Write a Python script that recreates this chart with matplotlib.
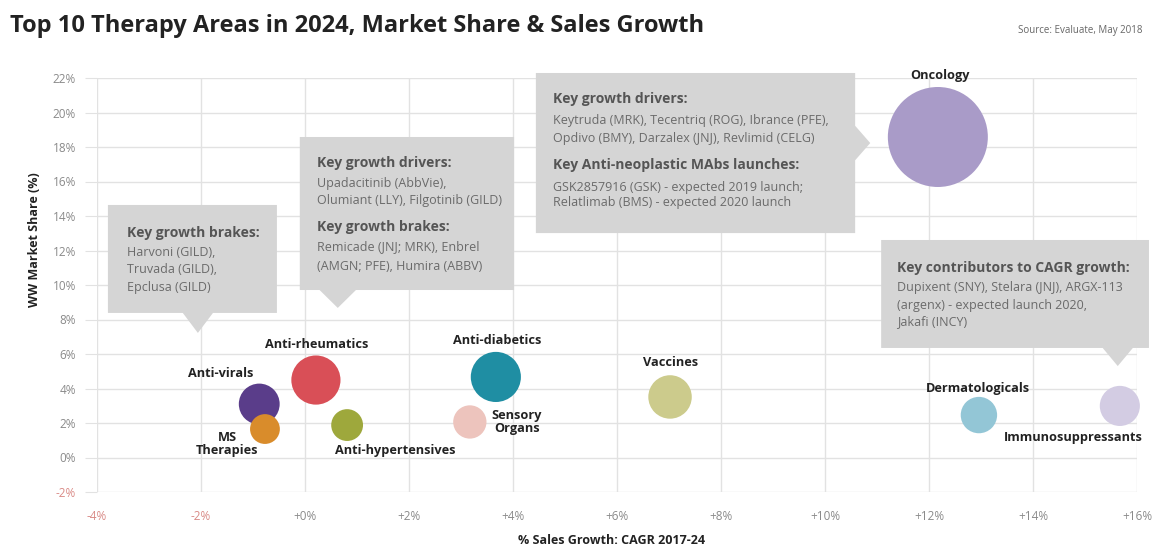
import matplotlib
matplotlib.use("Agg")
import matplotlib.pyplot as plt
from matplotlib.patches import Polygon

plt.rcParams['font.family'] = ['Open Sans', 'DejaVu Sans']

# ---- data ----
areas = ["Oncology", "Anti-virals", "MS\nTherapies", "Anti-rheumatics", "Anti-hypertensives",
         "Anti-diabetics", "Sensory\nOrgans", "Vaccines", "Dermatologicals", "Immunosuppressants"]
cagr = [12.17, -0.88, -0.77, 0.21, 0.81, 3.67, 3.17, 7.02, 12.96, 15.67]          # % CAGR 2017-24
share = [18.58, 3.10, 1.65, 4.49, 1.88, 4.67, 2.06, 3.51, 2.46, 2.99]             # WW market share %
colors = ["#a99bc8", "#5a3d8a", "#d98c2b", "#d94f57", "#9ea83c",
          "#1f8ea3", "#edc4bd", "#cccb8c", "#93c6d6", "#d3cce3"]
# label offsets (pixels) relative to bubble centre
label_off = [(2, 61), (-39, 31), (-38, -15), (1, 36), (48, -25),
             (1, 36), (47, 0), (1, 34), (-1, 27), (-47, -32)]

x_ticks = [-4, -2, 0, 2, 4, 6, 8, 10, 12, 14, 16]
y_ticks = [-2, 0, 2, 4, 6, 8, 10, 12, 14, 16, 18, 20, 22]

# callouts: (box left, box right, box bottom, box top), pointer, heading/body blocks
callouts = [
    dict(box=(-3.79, -0.54, 8.38, 14.64), ptr=("bottom", -2.06, 7.22, 0.29),
         tx=-3.42, lines=[("Key growth brakes:", 13.01, True), ("Harvoni (GILD),", 11.86, False),
                          ("Truvada (GILD),", 10.87, False), ("Epclusa (GILD)", 9.83, False)]),
    dict(box=(-0.10, 4.02, 9.71, 18.58), ptr=("bottom", 0.63, 8.67, 0.35),
         tx=0.23, lines=[("Key growth drivers:", 17.07, True), ("Upadacitinib (AbbVie),", 15.91, False),
                         ("Olumiant (LLY), Filgotinib (GILD)", 14.87, False),
                         ("Key growth brakes:", 13.36, True), ("Remicade (JNJ; MRK), Enbrel", 12.20, False),
                         ("(AMGN; PFE), Humira (ABBV)", 11.10, False)]),
    dict(box=(4.44, 10.58, 13.01, 22.29), ptr=("right", 10.87, 18.23, 1.0),
         tx=4.77, lines=[("Key growth drivers:", 20.78, True),
                         ("Keytruda (MRK), Tecentriq (ROG), Ibrance (PFE),", 19.51, False),
                         ("Opdivo (BMY), Darzalex (JNJ), Revlimid (CELG)", 18.52, False),
                         ("Key Anti-neoplastic MAbs launches:", 16.96, True),
                         ("GSK2857916 (GSK) - expected 2019 launch;", 15.68, False),
                         ("Relatlimab (BMS) - expected 2020 launch", 14.81, False)]),
    dict(box=(11.08, 16.23, 6.35, 12.61), ptr=("bottom", 15.63, 5.30, 0.29),
         tx=11.38, lines=[("Key contributors to CAGR growth:", 10.99, True),
                          ("Dupixent (SNY), Stelara (JNJ), ARGX-113", 9.83, False),
                          ("(argenx) - expected launch 2020,", 8.84, False),
                          ("Jakafi (INCY)", 7.86, False)]),
]

W, H, DPI = 1153, 548, 100
fig = plt.figure(figsize=(W / DPI, H / DPI), dpi=DPI)
fig.patch.set_facecolor("white")
ax = fig.add_axes([97 / W, 56 / H, 1040 / W, 414 / H])
ax.set_xlim(-4, 16)
ax.set_ylim(-2, 22)
ax.set_xticks(x_ticks)
ax.set_yticks(y_ticks)
ax.set_xticklabels([f"{v:+d}%" if v != 0 else "+0%" for v in x_ticks])
ax.set_yticklabels([f"{v}%" for v in y_ticks])
for lbl, v in zip(ax.get_xticklabels(), x_ticks):
    lbl.set_color("#d98a86" if v < 0 else "#8a8a8a")
for lbl, v in zip(ax.get_yticklabels(), y_ticks):
    lbl.set_color("#d98a86" if v < 0 else "#8a8a8a")
ax.tick_params(axis="y", length=9, color="#e2e2e2", pad=6, labelsize=8.5)
ax.tick_params(axis="x", length=0, pad=13, labelsize=8.5)
ax.grid(True, color="#e2e2e2", linewidth=1)
ax.set_axisbelow(True)
for s in ax.spines.values():
    s.set_visible(False)

# callout boxes
for c in callouts:
    l, r, b, t = c["box"]
    side, px, py, hw = c["ptr"]
    if side == "bottom":
        pts = [(l, b), (px - hw, b), (px, py), (px + hw, b), (r, b), (r, t), (l, t)]
    else:
        pts = [(l, b), (r, b), (r, py - hw), (px, py), (r, py + hw), (r, t), (l, t)]
    ax.add_patch(Polygon(pts, closed=True, facecolor="#d5d5d5", edgecolor="none",
                         zorder=1.5, clip_on=False))
    for txt, yy, bold in c["lines"]:
        ax.text(c["tx"], yy, txt, ha="left", va="center",
                fontsize=10 if bold else 9, fontweight="bold" if bold else "normal",
                color="#555555" if bold else "#6a6a6a", zorder=2, clip_on=False)

# bubbles (area proportional to market share)
sizes = [279 * v for v in share]
ax.scatter(cagr, share, s=sizes, c=colors, edgecolors="none", zorder=3, clip_on=False)
for name, x, y, (dx, dy) in zip(areas, cagr, share, label_off):
    ax.annotate(name, (x, y), xytext=(dx, dy), textcoords="offset pixels",
                ha="center", va="center", fontsize=9.2, fontweight="bold",
                color="#222222", zorder=4, linespacing=0.95)

fig.text(10 / W, 1 - 26 / H, "Top 10 Therapy Areas in 2024, Market Share & Sales Growth",
         ha="left", va="center", fontsize=17, fontweight="bold", color="#222222")
fig.text(1143 / W, 1 - 30 / H, "Source: Evaluate, May 2018", ha="right", va="center",
         fontsize=7, color="#666666")
fig.text(35 / W, 1 - 240 / H, "WW Market Share (%)", rotation=90, ha="center", va="center",
         fontsize=9, fontweight="bold", color="#222222")
fig.text(612 / W, 1 - 540 / H, "% Sales Growth: CAGR 2017-24", ha="center", va="center",
         fontsize=9, fontweight="bold", color="#222222")

fig.savefig("out.png", dpi=DPI)
